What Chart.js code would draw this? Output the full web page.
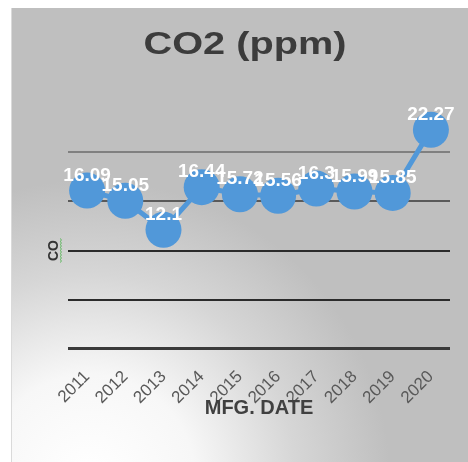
<!DOCTYPE html>
<html>
<head>
<meta charset="utf-8">
<script src="https://cdn.jsdelivr.net/npm/chart.js@4.4.0/dist/chart.umd.min.js"></script>
<style>
html,body{margin:0;padding:0;background:#fff;overflow:hidden}
#wrap{width:468px;height:462px;position:relative}
</style>
</head>
<body>
<div id="wrap"><canvas id="c" width="468" height="462"></canvas></div>
<script>
// ---- data ----
const categories = ['2011','2012','2013','2014','2015','2016','2017','2018','2019','2020'];
const co2Values = [16.09, 15.05, 12.1, 16.44, 15.72, 15.56, 16.3, 15.99, 15.85, 22.27];
const yTickValues = [0, 5, 10, 15, 20];
const chartTitle = 'CO2 (ppm)';
const xAxisTitle = 'MFG. DATE';
const yAxisTitle = 'CO';

const FONT = "'Liberation Sans', Arial, Helvetica, sans-serif";
const BLUE = '#5198d9';

const decorPlugin = {
  id: 'decor',
  beforeDraw(chart) {
    const ctx = chart.ctx, W = chart.width, H = chart.height;
    ctx.save();
    ctx.fillStyle = '#ffffff';
    ctx.fillRect(0, 0, W, H);
    const g = ctx.createRadialGradient(90, 480, 5, 90, 480, 340);
    g.addColorStop(0, '#ffffff');
    g.addColorStop(0.3, '#f7f7f7');
    g.addColorStop(0.6, '#d6d6d6');
    g.addColorStop(0.88, '#bfbfbf');
    g.addColorStop(1, '#bfbfbf');
    ctx.fillStyle = g;
    ctx.fillRect(11, 8, W - 11, H - 8);
    ctx.fillStyle = '#dadada';
    ctx.fillRect(11, 8, 1, H - 8);
    // chart title (slightly wide lettering)
    ctx.fillStyle = '#3c3c3c';
    ctx.font = 'bold 32px ' + FONT;
    ctx.textAlign = 'center';
    ctx.textBaseline = 'alphabetic';
    ctx.translate(245, 54);
    ctx.scale(1.24, 1);
    ctx.fillText(chartTitle, 0, 0);
    ctx.restore();
  },
  afterDraw(chart) {
    const ctx = chart.ctx, area = chart.chartArea;
    const ys = chart.scales.y;
    const gridTop = ys.getPixelForValue(yTickValues[yTickValues.length - 1]);
    const gridBottom = ys.getPixelForValue(yTickValues[0]);
    ctx.save();
    // y axis title
    const cy = (gridTop + gridBottom) / 2;
    ctx.translate(area.left - 14, cy);
    ctx.rotate(-Math.PI / 2);
    ctx.fillStyle = '#333333';
    ctx.font = 'bold 14px ' + FONT;
    ctx.textAlign = 'center';
    ctx.textBaseline = 'middle';
    ctx.fillText(yAxisTitle, 0, 0);
    // green squiggle (spell-check underline)
    ctx.strokeStyle = '#5cb85c';
    ctx.lineWidth = 1;
    ctx.beginPath();
    const w = 24;
    for (let i = 0; i <= w; i += 1.5) {
      const yy = 6 + ((i / 1.5) % 2 === 0 ? 0 : 1.6);
      if (i === 0) ctx.moveTo(-w / 2 + i, yy); else ctx.lineTo(-w / 2 + i, yy);
    }
    ctx.stroke();
    ctx.restore();
    // x axis title (overlapping tick labels like the original)
    ctx.save();
    ctx.fillStyle = '#404040';
    ctx.font = 'bold 20px ' + FONT;
    ctx.textAlign = 'center';
    ctx.textBaseline = 'alphabetic';
    ctx.fillText(xAxisTitle, (area.left + area.right) / 2, gridBottom + 65);
    ctx.restore();
  },
  afterDatasetsDraw(chart) {
    const ctx = chart.ctx;
    const meta = chart.getDatasetMeta(0);
    const data = chart.data.datasets[0].data;
    ctx.save();
    ctx.fillStyle = '#ffffff';
    ctx.font = 'bold 19px ' + FONT;
    ctx.textAlign = 'center';
    ctx.textBaseline = 'middle';
    meta.data.forEach((pt, i) => {
      ctx.fillText(String(data[i]), pt.x, pt.y - 15);
    });
    ctx.restore();
  }
};

const gridColorFor = v => ({0:'#3a3a3a',5:'#2b2b2b',10:'#2b2b2b',15:'#5a5a5a',20:'#808080'}[v] || '#555');

new Chart(document.getElementById('c'), {
  type: 'line',
  data: {
    labels: categories,
    datasets: [{
      data: co2Values,
      borderColor: BLUE,
      backgroundColor: BLUE,
      borderWidth: 5,
      pointRadius: 18,
      pointHoverRadius: 18,
      pointBackgroundColor: BLUE,
      pointBorderWidth: 0,
      tension: 0,
      clip: false
    }]
  },
  options: {
    responsive: false,
    animation: false,
    devicePixelRatio: 1,
    layout: { padding: { top: 103, right: 13, left: 68, bottom: 44 } },
    plugins: { legend: { display: false }, title: { display: false }, tooltip: { enabled: false } },
    scales: {
      x: {
        offset: true,
        grid: { display: false },
        border: { display: false },
        ticks: {
          color: '#595959',
          font: { family: FONT, size: 17 },
          minRotation: 45,
          maxRotation: 45,
          padding: 10,
          autoSkip: false
        }
      },
      y: {
        min: 0,
        max: 25,
        afterBuildTicks(scale) { scale.ticks = yTickValues.map(v => ({ value: v })); },
        grid: {
          drawTicks: false,
          color: c => gridColorFor(c.tick && c.tick.value),
          lineWidth: c => (c.tick && c.tick.value === 0 ? 3 : 2)
        },
        border: { display: false },
        ticks: { display: false }
      }
    }
  },
  plugins: [decorPlugin]
});
</script>
</body>
</html>
